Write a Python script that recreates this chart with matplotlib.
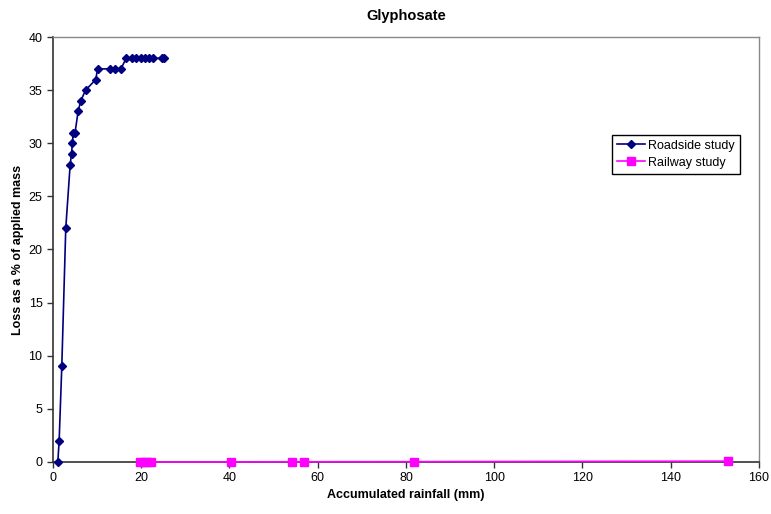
import matplotlib
matplotlib.use('Agg')
import matplotlib.pyplot as plt

plt.rcParams['font.family'] = ['Liberation Sans', 'DejaVu Sans']

# Roadside study: accumulated rainfall (mm) vs loss (% of applied mass)
road_rain = [1.1, 1.4, 2.0, 2.9, 3.9, 4.2, 4.4, 4.6, 5.0, 5.7, 6.3, 7.4, 9.7, 10.1,
             13.0, 14.1, 15.4, 16.6, 17.9, 18.9, 20.0, 20.9, 21.8, 22.7, 24.6, 25.2]
road_loss = [0, 2, 9, 22, 28, 29, 30, 31, 31, 33, 34, 35, 36, 37,
             37, 37, 37, 38, 38, 38, 38, 38, 38, 38, 38, 38]

# Railway study
rail_rain = [19.8, 20.6, 21.3, 22.2, 40.3, 54.2, 57.0, 81.8, 153.0]
rail_loss = [0, 0, 0, 0, 0.01, 0.02, 0.02, 0.03, 0.08]

fig = plt.figure(figsize=(7.71, 5.14), dpi=100)
ax = fig.add_axes([0.0687, 0.1012, 0.9157, 0.8268])

ax.plot(road_rain, road_loss, color='#000080', marker='D', markersize=4.2,
        linewidth=1.2, label='Roadside study', zorder=3, clip_on=False)
ax.plot(rail_rain, rail_loss, color='#FF00FF', marker='s', markersize=5.5,
        linewidth=1.2, label='Railway study', zorder=3, clip_on=False)

ax.set_xlim(0, 160)
ax.set_ylim(0, 40)
ax.set_xticks(range(0, 161, 20))
ax.set_yticks(range(0, 41, 5))
ax.tick_params(labelsize=9, direction='out', length=4, width=1, color='#333333')

for side in ['top', 'right']:
    ax.spines[side].set_color('#888888')
    ax.spines[side].set_linewidth(1)
for side in ['left', 'bottom']:
    ax.spines[side].set_color('#333333')
    ax.spines[side].set_linewidth(1.2)

ax.set_title('Glyphosate', fontsize=10.5, fontweight='bold', pad=12)
ax.set_xlabel('Accumulated rainfall (mm)', fontsize=9, fontweight='bold', labelpad=3)
ax.set_ylabel('Loss as a % of applied mass', fontsize=9, fontweight='bold', labelpad=3)

leg = ax.legend(loc='upper left', bbox_to_anchor=(0.783, 0.785), fontsize=9,
                fancybox=False, framealpha=1, edgecolor='black',
                borderpad=0.4, labelspacing=0.4, handlelength=2.2, handletextpad=0.3)
leg.get_frame().set_linewidth(1)

fig.savefig('out.png', dpi=100)
